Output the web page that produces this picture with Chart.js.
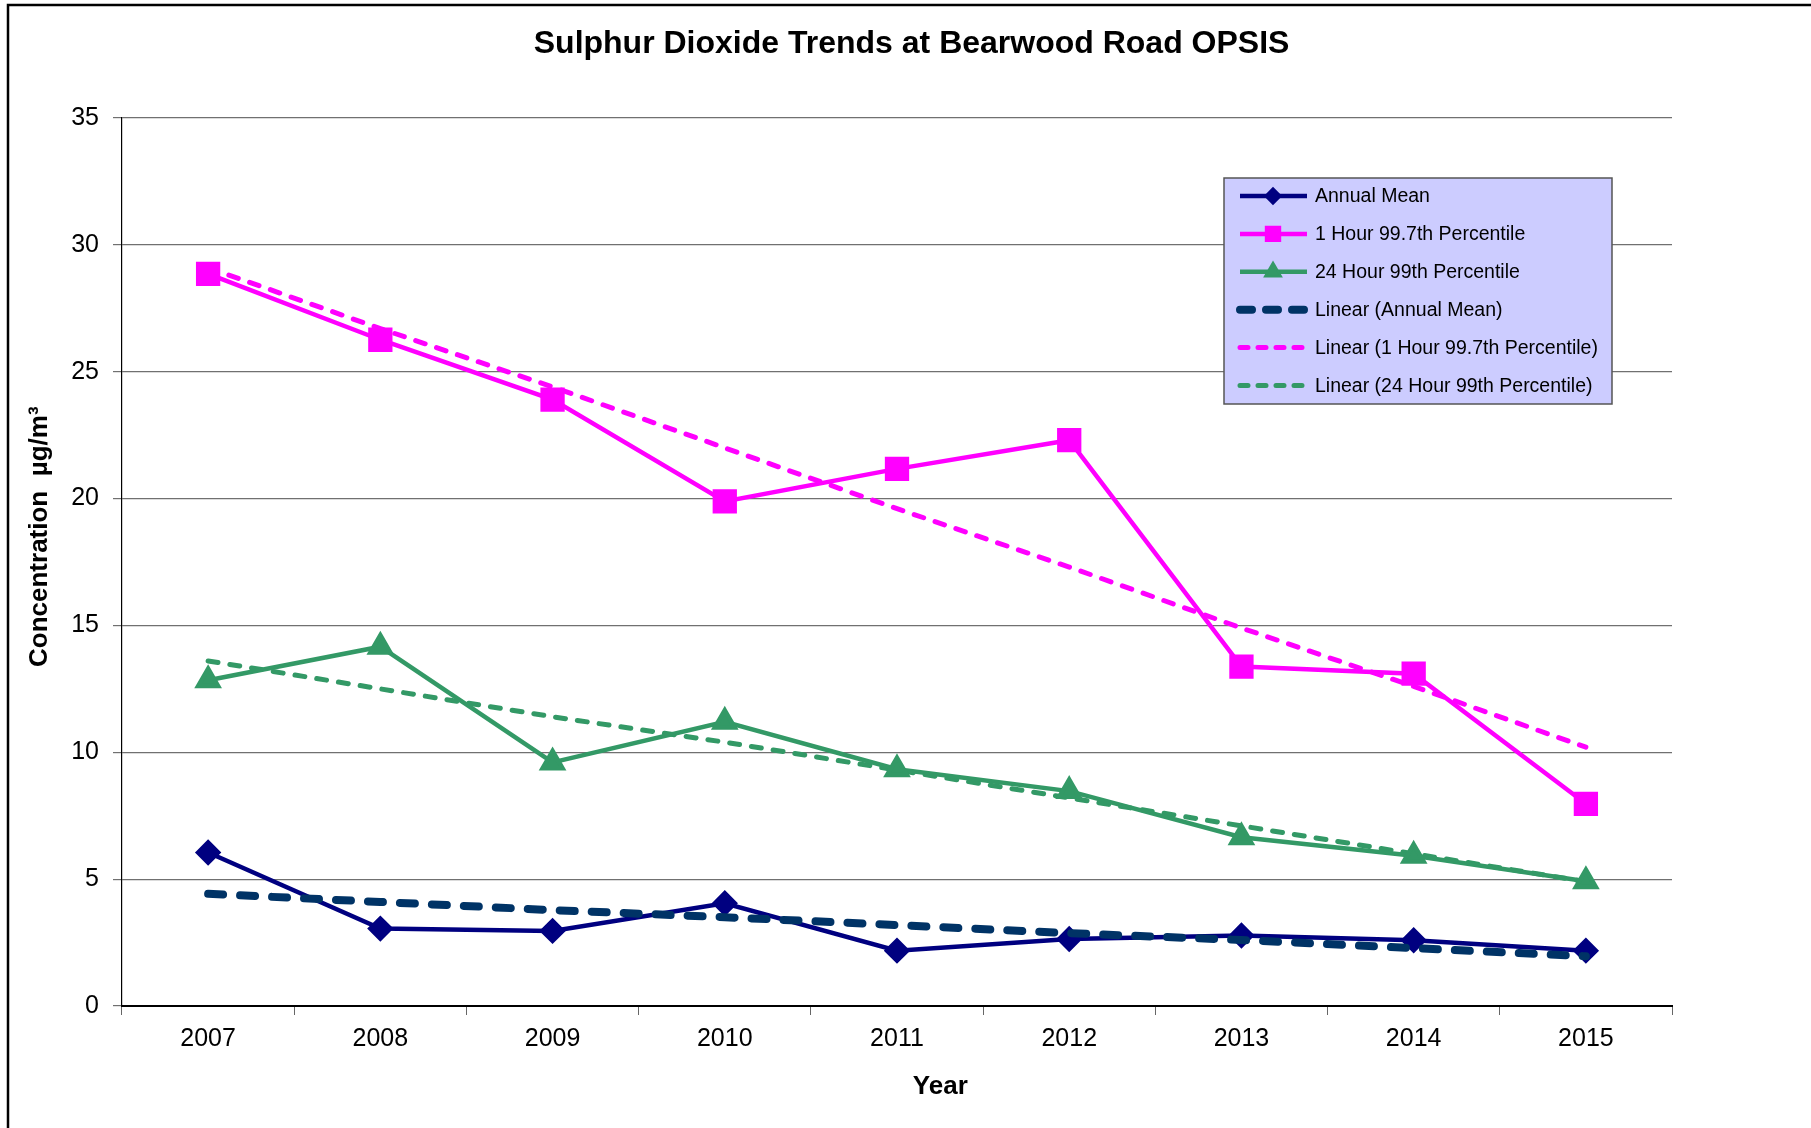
<!DOCTYPE html>
<html>
<head>
<meta charset="utf-8">
<script src="https://cdn.jsdelivr.net/npm/chart.js@4.4.1/dist/chart.umd.min.js"></script>
<style>
  body { margin: 0; background: #fff; }
  #wrap { width: 1811px; height: 1128px; }
</style>
</head>
<body>
<div id="wrap"><canvas id="myChart" width="1811" height="1128"></canvas></div>
<script>
// values
var years = ["2007", "2008", "2009", "2010", "2011", "2012", "2013", "2014", "2015"];
var annualMean = [6.05, 3.05, 2.96, 4.05, 2.18, 2.64, 2.78, 2.59, 2.18];
var hour997 = [28.86, 26.26, 23.9, 19.89, 21.17, 22.3, 13.38, 13.1, 7.97];
var day99 = [12.84, 14.16, 9.6, 11.2, 9.33, 8.47, 6.65, 5.92, 4.92];
// trend lines as seen on the chart
var linAnnual = [4.42, 4.1, 3.78, 3.5, 3.19, 2.87, 2.6, 2.28, 1.96];
var linHour = [29.1, 26.7, 24.4, 22.0, 19.6, 17.3, 14.9, 12.6, 10.2];
var linDay = [13.6, 12.5, 11.4, 10.4, 9.3, 8.2, 7.1, 6.0, 4.9];
var yTicks = [0, 5, 10, 15, 20, 25, 30, 35];

var fontFam = "'Liberation Sans', Arial, sans-serif";
var nb = function (n) { return '\u00a0'.repeat(n); };

// outer frame + legend box drawn on the canvas
var frame = {
    id: 'frame',
    beforeDraw: function (chart) {
        var c = chart.ctx;
        c.save();
        c.fillStyle = '#fff';
        c.fillRect(0, 0, chart.width, chart.height);
        c.strokeStyle = '#000';
        c.lineWidth = 2.5;
        c.beginPath();
        c.moveTo(8, chart.height);
        c.lineTo(8, 5);
        c.lineTo(chart.width, 5);
        c.stroke();
        c.restore();
    },
    afterDraw: function (chart) {
        var c = chart.ctx;
        var bx = 1224, by = 178, bw = 388, bh = 226;
        c.save();
        c.fillStyle = '#ccccff';
        c.fillRect(bx, by, bw, bh);
        c.strokeStyle = '#555';
        c.lineWidth = 1.5;
        c.strokeRect(bx, by, bw, bh);
        chart.data.datasets.forEach(function (ds, i) {
            var y = 196 + i * 37.9;
            c.strokeStyle = ds.borderColor;
            c.lineWidth = ds.borderWidth;
            c.lineCap = ds.borderDash ? 'round' : 'butt';
            c.setLineDash(ds.legendDash || []);
            c.beginPath();
            c.moveTo(1240, y);
            c.lineTo(1307, y);
            c.stroke();
            c.setLineDash([]);
            if (ds.pointRadius > 0) {
                Chart.helpers.drawPoint(c, {
                    pointStyle: ds.pointStyle, radius: ds.pointRadius * 0.6, borderWidth: 1
                }, 1273, y);
                c.fillStyle = ds.borderColor;
                c.fill();
            }
            c.fillStyle = '#000';
            c.font = '19.5px ' + fontFam;
            c.textBaseline = 'middle';
            c.fillText(ds.label, 1315, y + 1);
        });
        c.restore();
    }
};

var ctx = document.getElementById('myChart');
var ch = new Chart(ctx, {
    type: 'line',
    data: {
        labels: years,
        datasets: [{
            label: 'Annual Mean',
            data: annualMean,
            borderColor: '#000080',
            backgroundColor: '#000080',
            borderWidth: 4.5,
            pointStyle: 'rectRot',
            pointRadius: 10,
            order: 1
        }, {
            label: '1 Hour 99.7th Percentile',
            data: hour997,
            borderColor: '#ff00ff',
            backgroundColor: '#ff00ff',
            borderWidth: 4.5,
            pointStyle: 'rect',
            pointRadius: 14,
            order: 1
        }, {
            label: '24 Hour 99th Percentile',
            data: day99,
            borderColor: '#339966',
            backgroundColor: '#339966',
            borderWidth: 4.5,
            pointStyle: 'triangle',
            pointRadius: 11.5,
            order: 1
        }, {
            label: 'Linear (Annual Mean)',
            data: linAnnual,
            borderColor: '#003366',
            borderWidth: 8,
            borderDash: [15, 17],
            legendDash: [12, 14],
            borderCapStyle: 'round',
            pointRadius: 0,
            order: 0
        }, {
            label: 'Linear (1 Hour 99.7th Percentile)',
            data: linHour,
            borderColor: '#ff00ff',
            borderWidth: 5,
            borderDash: [10, 12],
            legendDash: [8, 10],
            borderCapStyle: 'round',
            pointRadius: 0,
            order: 2
        }, {
            label: 'Linear (24 Hour 99th Percentile)',
            data: linDay,
            borderColor: '#339966',
            borderWidth: 5,
            borderDash: [10, 12],
            legendDash: [8, 10],
            borderCapStyle: 'round',
            pointRadius: 0,
            order: 2
        }]
    },
    options: {
        responsive: false,
        animation: false,
        layout: { padding: { left: 0, right: 139, top: 0, bottom: 0 } },
        elements: { line: { tension: 0 }, point: { borderWidth: 0, hoverRadius: 10 } },
        plugins: {
            legend: { display: false },
            tooltip: { enabled: false },
            title: {
                display: true,
                text: nb(17) + 'Sulphur Dioxide Trends at Bearwood Road OPSIS',
                color: '#000',
                font: { family: fontFam, size: 32, weight: 'bold' },
                padding: { top: 25, bottom: 54.6 }
            }
        },
        scales: {
            x: {
                offset: true,
                grid: { offset: true, drawOnChartArea: false, tickLength: 9, color: '#666' },
                border: { color: '#000', width: 2 },
                ticks: { color: '#000', padding: 9, font: { family: fontFam, size: 25 } },
                title: {
                    display: true, text: nb(12) + 'Year', color: '#000',
                    font: { family: fontFam, size: 26, weight: 'bold' },
                    padding: { top: 0, bottom: 26 }
                },
                afterFit: function (s) { s.height = 122; }
            },
            y: {
                min: 0,
                max: 35,
                afterBuildTicks: function (s) { s.ticks = yTicks.map(function (v) { return { value: v }; }); },
                grid: { color: '#707070', lineWidth: 1.2, tickLength: 9 },
                border: { color: '#000', width: 1.2 },
                ticks: { color: '#000', padding: 14, font: { family: fontFam, size: 25 } },
                title: {
                    display: true,
                    text: nb(7) + 'Concentration  \u00b5g/m\u00b3',
                    color: '#000',
                    font: { family: fontFam, size: 26, weight: 'bold' },
                    padding: { top: 24, bottom: 0 }
                },
                afterFit: function (s) { s.width = 122; }
            }
        }
    },
    plugins: [frame]
});
</script>
</body>
</html>
